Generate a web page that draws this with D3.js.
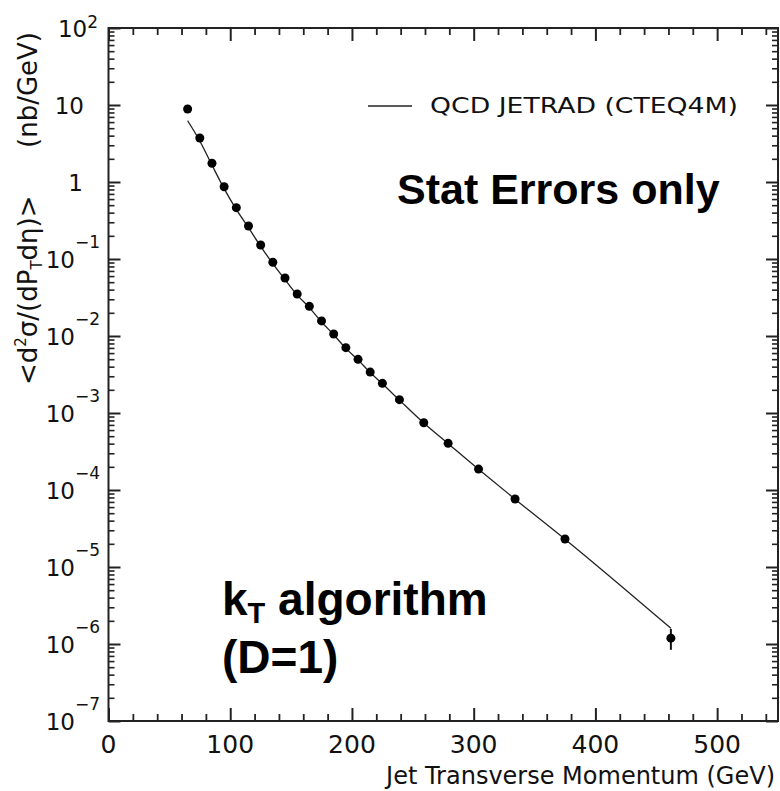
<!DOCTYPE html>
<html>
<head>
<meta charset="utf-8">
<title>Inclusive jet cross section, kT algorithm</title>
<script src="https://d3js.org/d3.v7.min.js"></script>
<style>
  body { margin: 0; background: #fff; }
  svg { display: block; }
  .paw { font-family: "DejaVu Sans", sans-serif; fill: #111; white-space: pre; }
  .big { font-family: "Liberation Sans", Arial, sans-serif; font-weight: bold; fill: #000; }
</style>
</head>
<body>
<svg width="780" height="791"></svg>
<script>
// measured points (GeV, nb/GeV)
const ptData = [65, 75, 85, 95, 105, 115, 125, 135, 145, 155, 165, 175, 185, 195, 205, 215, 225, 239, 259, 279, 304, 334, 375, 462];
const xsecData = [8.87, 3.73, 1.75, 0.869, 0.464, 0.268, 0.152, 0.0906, 0.0566, 0.0351, 0.0243, 0.0157, 0.0106, 0.00705,
                  0.00498, 0.0034, 0.00243, 0.00149, 0.000748, 0.000404, 0.000187, 7.64e-5, 2.31e-5, 1.19e-6];
// stat errors (only the last one is bigger than the marker)
const errUp = [0, 0, 0, 0, 0, 0, 0, 0, 0, 0, 0, 0, 0, 0, 0, 0, 0, 0, 0, 0, 0, 0, 0, 0.38e-6];
const errDown = [0, 0, 0, 0, 0, 0, 0, 0, 0, 0, 0, 0, 0, 0, 0, 0, 0, 0, 0, 0, 0, 0, 0, 0.35e-6];

// JETRAD curve
const ptTheory = [65, 75, 85, 95, 105, 115, 125, 135, 145, 155, 165, 175, 185, 195, 205, 215, 225, 239, 259, 279, 304, 334, 375, 462];
const xsecTheory = [6.25, 3.41, 1.66, 0.82, 0.44, 0.255, 0.146, 0.087, 0.054, 0.034, 0.0234, 0.0152, 0.0104, 0.0069,
                    0.0049, 0.00335, 0.0024, 0.00147, 0.00074, 0.0004, 0.000186, 7.6e-5, 2.3e-5, 1.6e-6];

const xMajorTicks = [0, 100, 200, 300, 400, 500];
const xTickLabels = ["0", "100", "200", "300", "400", "500"];
const yDecades = [-7, -6, -5, -4, -3, -2, -1, 0, 1, 2];

const plotLeft = 108.5, plotRight = 778, plotTop = 28, plotBottom = 721;

const svg = d3.select("svg");

const x = d3.scaleLinear().domain([0, 550]).range([plotLeft, plotRight]);
const y = d3.scaleLog().domain([1e-7, 1e2]).range([plotBottom, plotTop]);

const xMinorTicks = d3.range(0, 551, 20).filter(v => v % 100 !== 0);
const yMajorTicks = yDecades.map(e => Math.pow(10, e));
const yMinorTicks = [];
yDecades.slice(0, -1).forEach(e => {
    for (let k = 2; k <= 9; k++) yMinorTicks.push(k * Math.pow(10, e));
});

// draw an axis of inward ticks only, no line and no labels
function ticks(axis, transform, size, width) {
    const g = svg.append("g")
        .attr("transform", transform)
        .call(axis.tickSize(-size).tickFormat(""));
    g.select(".domain").remove();
    g.selectAll(".tick line").attr("stroke", "#222").attr("stroke-width", width);
    g.selectAll(".tick text").remove();
}

ticks(d3.axisBottom(x).tickValues(xMajorTicks), "translate(0," + plotBottom + ")", 13, 2);
ticks(d3.axisBottom(x).tickValues(xMinorTicks), "translate(0," + plotBottom + ")", 7, 1.8);
ticks(d3.axisTop(x).tickValues(xMajorTicks), "translate(0," + plotTop + ")", 13, 2);
ticks(d3.axisTop(x).tickValues(xMinorTicks), "translate(0," + plotTop + ")", 7, 1.8);
ticks(d3.axisLeft(y).tickValues(yMajorTicks), "translate(" + plotLeft + ",0)", 12, 2);
ticks(d3.axisLeft(y).tickValues(yMinorTicks), "translate(" + plotLeft + ",0)", 6, 1.6);
ticks(d3.axisRight(y).tickValues(yMajorTicks), "translate(" + plotRight + ",0)", 12, 2);
ticks(d3.axisRight(y).tickValues(yMinorTicks), "translate(" + plotRight + ",0)", 6, 1.6);

// frame
svg.append("rect")
    .attr("x", plotLeft).attr("y", plotTop)
    .attr("width", plotRight - plotLeft).attr("height", plotBottom - plotTop)
    .attr("fill", "none").attr("stroke", "#222").attr("stroke-width", 2);

// x tick labels
svg.selectAll(".xlab")
    .data(xMajorTicks)
    .enter().append("text")
    .attr("class", "paw xlab")
    .attr("x", d => x(d))
    .attr("y", 753)
    .attr("text-anchor", "middle")
    .attr("font-size", 25)
    .text((d, i) => xTickLabels[i]);

// y tick labels, 10^n
yDecades.forEach(e => {
    const t = svg.append("text")
        .attr("class", "paw")
        .attr("y", y(Math.pow(10, e)) + 8.5)
        .attr("text-anchor", "end")
        .attr("font-size", 23);
    if (e === 0) {
        t.attr("x", 83).text("1");
    } else if (e === 1) {
        t.attr("x", 84).text("10");
    } else {
        t.attr("x", e > 0 ? 98 : 100);
        t.append("tspan").text("10");
        t.append("tspan")
            .attr("font-size", 17)
            .attr("dy", e > 0 ? -9 : -20)
            .text(e < 0 ? "\u2212" + (-e) : String(e));
    }
});

// axis titles
svg.append("text")
    .attr("class", "paw")
    .attr("x", 775).attr("y", 784)
    .attr("text-anchor", "end")
    .attr("font-size", 24)
    .text("Jet Transverse Momentum (GeV)");

const yt = svg.append("text")
    .attr("class", "paw")
    .attr("font-size", 26)
    .attr("transform", "translate(37,385) rotate(-90)");
yt.append("tspan").text("<d");
yt.append("tspan").attr("font-size", 15).attr("dy", -11).text("2");
yt.append("tspan").attr("dy", 11).text("\u03c3/(dP");
yt.append("tspan").attr("font-size", 15).attr("dy", 5).text("T");
yt.append("tspan").attr("dy", -5).text("d\u03b7)>");

svg.append("text")
    .attr("class", "paw")
    .attr("font-size", 26)
    .attr("text-anchor", "end")
    .attr("transform", "translate(37,32) rotate(-90)")
    .text("(nb/GeV)");

// theory curve
const theory = ptTheory.map((p, i) => [p, xsecTheory[i]]);
svg.append("path")
    .datum(theory)
    .attr("fill", "none")
    .attr("stroke", "#222")
    .attr("stroke-width", 1.3)
    .attr("d", d3.line()
        .x(d => x(d[0]))
        .y(d => y(d[1]))
        .curve(d3.curveMonotoneX));

// data with stat errors
const points = ptData.map((p, i) => ({ pt: p, v: xsecData[i], up: errUp[i], down: errDown[i] }));

svg.selectAll(".err")
    .data(points.filter(d => d.up > 0 || d.down > 0))
    .enter().append("line")
    .attr("class", "err")
    .attr("x1", d => x(d.pt)).attr("x2", d => x(d.pt))
    .attr("y1", d => y(d.v + d.up)).attr("y2", d => y(d.v - d.down))
    .attr("stroke", "#111").attr("stroke-width", 2);

svg.selectAll(".pt")
    .data(points)
    .enter().append("circle")
    .attr("class", "pt")
    .attr("cx", d => x(d.pt))
    .attr("cy", d => y(d.v))
    .attr("r", 4.5)
    .attr("fill", "#000");

// legend
svg.append("line")
    .attr("x1", 368).attr("x2", 412)
    .attr("y1", 106).attr("y2", 106)
    .attr("stroke", "#222").attr("stroke-width", 1.3);
svg.append("text")
    .attr("class", "paw")
    .attr("x", 430).attr("y", 113)
    .attr("font-size", 21)
    .attr("textLength", 308)
    .attr("lengthAdjust", "spacingAndGlyphs")
    .text("QCD JETRAD (CTEQ4M)");

// annotations
svg.append("text")
    .attr("class", "big")
    .attr("x", 397).attr("y", 204)
    .attr("font-size", 43)
    .text("Stat Errors only");

const kt = svg.append("text")
    .attr("class", "big")
    .attr("x", 222).attr("y", 615)
    .attr("font-size", 46);
kt.append("tspan").text("k");
kt.append("tspan").attr("font-size", 29).attr("dy", 8).text("T");
kt.append("tspan").attr("dy", -8).text(" algorithm");

svg.append("text")
    .attr("class", "big")
    .attr("x", 222).attr("y", 673)
    .attr("font-size", 46)
    .text("(D=1)");
</script>
</body>
</html>
